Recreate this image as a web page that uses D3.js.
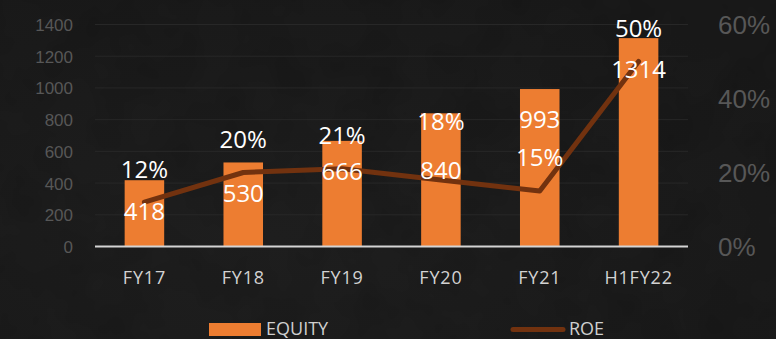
<!DOCTYPE html>
<html>
<head>
<meta charset="utf-8">
<script src="https://cdn.jsdelivr.net/npm/d3@7"></script>
<style>
  html, body { margin: 0; padding: 0; background: #1b1b1b; }
  svg { display: block; font-family: "Open Sans", "Noto Sans", sans-serif; }
</style>
</head>
<body>
<svg id="chart" width="776" height="339"></svg>
<script>
// Equity (bars, left axis) and return on equity (line, right axis)
const categories = ["FY17", "FY18", "FY19", "FY20", "FY21", "H1FY22"];
const equity = [418, 530, 666, 840, 993, 1314];
const roe = [12, 20, 21, 18, 15, 50];
const leftTicks = [0, 200, 400, 600, 800, 1000, 1200, 1400];
const rightTicks = [0, 20, 40, 60];

// FY20 labels are pulled apart so they clear the line
const equityLabelDrop = [0, 0, 0, 26, 0, 0];
const roeLabelLift = [0, 0, 0, 25, 0, 0];

const W = 776, H = 339;
const m = { left: 95, right: 88, top: 24.5, bottom: 92.5 };
const svg = d3.select("#chart");

// textured dark backdrop
const defs = svg.append("defs");
const bg = defs.append("radialGradient").attr("id", "bg")
  .attr("cx", "35%").attr("cy", "70%").attr("r", "80%");
bg.append("stop").attr("offset", "0%").attr("stop-color", "#1e1e1e");
bg.append("stop").attr("offset", "100%").attr("stop-color", "#191919");
const f = defs.append("filter").attr("id", "grain");
f.append("feTurbulence").attr("type", "fractalNoise").attr("baseFrequency", 0.02)
  .attr("numOctaves", 3).attr("seed", 4);
f.append("feColorMatrix").attr("values",
  "0 0 0 0 0  0 0 0 0 0  0 0 0 0 0  0 0 0 0.9 -0.35");
svg.append("rect").attr("width", W).attr("height", H).attr("fill", "url(#bg)");
svg.append("rect").attr("width", W).attr("height", H).attr("filter", "url(#grain)")
  .attr("opacity", 0.25);

const x = d3.scaleBand().domain(categories)
  .range([m.left, W - m.right]).paddingInner(0.6).paddingOuter(0.3);
const xc = d => x(d) + x.bandwidth() / 2;
const yL = d3.scaleLinear().domain([0, 1400]).range([H - m.bottom, m.top]);
const yR = d3.scaleLinear().domain([0, 60]).range([H - m.bottom, m.top]);

// gridlines
svg.append("g").selectAll("line").data(leftTicks.slice(1)).join("line")
  .attr("x1", m.left).attr("x2", W - m.right)
  .attr("y1", d => yL(d)).attr("y2", d => yL(d))
  .attr("stroke", "#272727").attr("stroke-width", 1);

// left axis
const axL = svg.append("g").attr("transform", `translate(${m.left - 22},0)`)
  .call(d3.axisLeft(yL).tickValues(leftTicks).tickSize(0).tickPadding(0)
    .tickFormat(d3.format("d")));
axL.select(".domain").remove();
axL.selectAll("text").attr("fill", "#575757").style("font-size", "17px")
  .attr("dy", "0.35em");

// right axis
const axR = svg.append("g").attr("transform", `translate(${W - m.right + 30},0)`)
  .call(d3.axisRight(yR).tickValues(rightTicks).tickSize(0).tickPadding(0)
    .tickFormat(d => d + "%"));
axR.select(".domain").remove();
axR.selectAll("text").attr("fill", "#575757").style("font-size", "26px")
  .attr("dy", "0.35em");

// bars
svg.append("g").selectAll("rect").data(categories).join("rect")
  .attr("x", d => x(d)).attr("width", x.bandwidth())
  .attr("y", (d, i) => yL(equity[i]))
  .attr("height", (d, i) => yL(0) - yL(equity[i]))
  .attr("fill", "#ED7D31");

// baseline
svg.append("line").attr("x1", m.left).attr("x2", W - m.right)
  .attr("y1", yL(0)).attr("y2", yL(0))
  .attr("stroke", "#d4d4d4").attr("stroke-width", 2);

// ROE line
const line = d3.line().x((d, i) => xc(categories[i])).y(d => yR(d));
svg.append("path").datum(roe).attr("d", line)
  .attr("fill", "none").attr("stroke", "#72320f").attr("stroke-width", 5)
  .attr("stroke-linecap", "round").attr("stroke-linejoin", "round");

// data labels
const lab = svg.append("g").attr("fill", "#ffffff").style("font-size", "24px")
  .attr("text-anchor", "middle");
lab.selectAll("text.eq").data(categories).join("text").attr("class", "eq")
  .attr("x", d => xc(d))
  .attr("y", (d, i) => yL(equity[i]) + 31 + equityLabelDrop[i])
  .attr("dy", "0.35em")
  .text((d, i) => equity[i]);
lab.selectAll("text.roe").data(categories).join("text").attr("class", "roe")
  .attr("x", d => xc(d))
  .attr("y", (d, i) => yR(roe[i]) - 33 - roeLabelLift[i])
  .attr("dy", "0.35em")
  .text((d, i) => roe[i] + "%");

// x axis labels
svg.append("g").selectAll("text").data(categories).join("text")
  .attr("x", d => xc(d)).attr("y", 278).attr("dy", "0.35em")
  .attr("text-anchor", "middle").attr("fill", "#d2d2d2")
  .style("font-size", "18px").style("letter-spacing", "0.8px")
  .text(d => d);

// legend
const lg = svg.append("g");
lg.append("rect").attr("x", 209).attr("y", 323).attr("width", 52).attr("height", 13)
  .attr("fill", "#ED7D31");
lg.append("text").attr("x", 266).attr("y", 329).attr("dy", "0.35em")
  .attr("fill", "#cfcfcf").style("font-size", "18px").text("EQUITY");
lg.append("line").attr("x1", 513).attr("x2", 563).attr("y1", 329.5).attr("y2", 329.5)
  .attr("stroke", "#72320f").attr("stroke-width", 5).attr("stroke-linecap", "round");
lg.append("text").attr("x", 569).attr("y", 329).attr("dy", "0.35em")
  .attr("fill", "#cfcfcf").style("font-size", "18px").text("ROE");
</script>
</body>
</html>
